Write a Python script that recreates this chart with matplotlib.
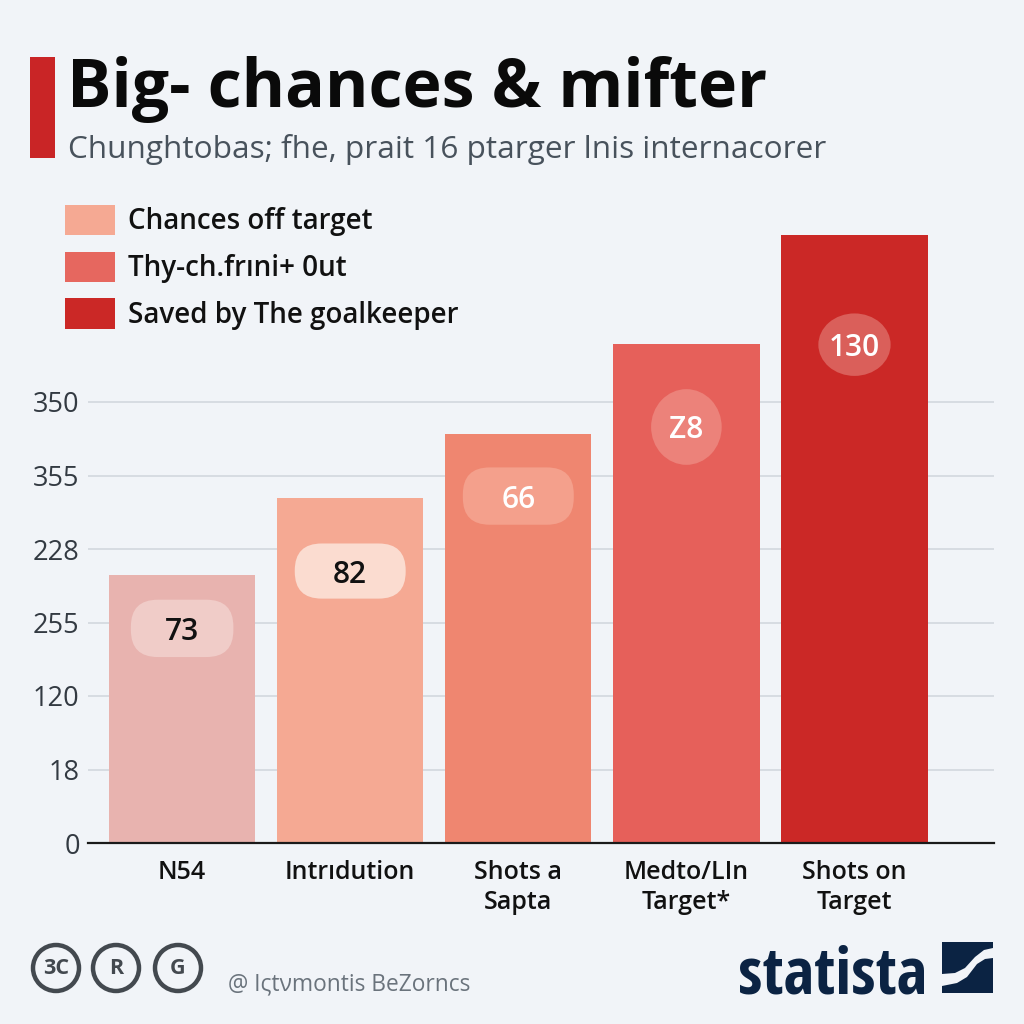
import matplotlib
matplotlib.use("Agg")
import matplotlib.pyplot as plt
from matplotlib.patches import FancyBboxPatch, Ellipse, Patch, Rectangle, Circle, Polygon

# DATA
categories = ["N54", "Intrıdution", "Shots a\nSapta", "Medto/LIn\nTarget*", "Shots on\nTarget"]
tick_labels = ["0", "18", "120", "255", "228", "355", "350"]
# heights are in tick steps, the axis labels are not monotonic
heights = [3.65, 4.69, 5.56, 6.79, 8.27]
bubble_labels = ["73", "82", "66", "Z8", "130"]
bubble_pos = [2.92, 3.70, 4.72, 5.66, 6.78]
bubble_w = [0.61, 0.66, 0.66, 0.42, 0.43]
bubble_h = [0.78, 0.75, 0.78, 1.03, 0.85]
bubble_text = ["#111111", "#111111", "#ffffff", "#ffffff", "#ffffff"]
bubble_fill = ["#F0CCC8", "#FBDCD0", "#F4A08C", "#EC827A", "#DA5F5A"]
bar_colors = ["#E8B3AF", "#F5A993", "#EF8670", "#E6605A", "#CB2826"]
legend_labels = ["Chances off target", "Thy-ch.frıni+ 0ut", "Saved by The goalkeeper"]
legend_colors = ["#F5A993", "#E6675F", "#CB2826"]

BG = "#F1F4F8"
NAVY = "#0B2343"
FONT = "Open Sans"

fig = plt.figure(figsize=(10.24, 10.24), dpi=100, facecolor=BG)
plt.rcParams["font.family"] = FONT

# overlay in pixel coordinates for the header and footer furniture
deco = fig.add_axes([0, 0, 1, 1], zorder=0)
deco.set_xlim(0, 1024)
deco.set_ylim(1024, 0)
deco.axis("off")

# CHART
ax = fig.add_axes([88/1024, (1024-843)/1024, (994-88)/1024, (843-225)/1024], zorder=1)
ax.patch.set_alpha(0)
ax.set_xlim(-0.56, 4.83)
ax.set_ylim(0, 618/73.5)
x = range(len(categories))
ax.bar(x, heights, width=0.87, color=bar_colors, zorder=2)
ax.set_yticks(range(len(tick_labels)))
ax.set_yticklabels(tick_labels, fontsize=19.5, color="#333a42", family=FONT)
ax.set_xticks(list(x))
ax.set_xticklabels(categories, fontsize=18, color="#111111", family=FONT, weight=600, linespacing=1.3)
ax.tick_params(axis="y", length=0, pad=6)
ax.tick_params(axis="x", length=0, pad=12)
ax.grid(True, axis="y", color="#D5DAE0", lw=1.3, zorder=1)
for s in ["top", "right", "left"]:
    ax.spines[s].set_visible(False)
ax.spines["bottom"].set_color("#1a1a1a")
ax.spines["bottom"].set_linewidth(1.6)
ax.spines["bottom"].set_zorder(4)

aspect = (906/5.39)/73.5
for i in x:
    w, h = bubble_w[i], bubble_h[i]
    if i < 3:
        ax.add_patch(FancyBboxPatch((i-w/2, bubble_pos[i]-h/2), w, h,
                                    boxstyle="round,pad=0,rounding_size=0.16",
                                    mutation_aspect=aspect, fc=bubble_fill[i], ec="none", zorder=3))
    else:
        ax.add_patch(Ellipse((i, bubble_pos[i]), w, h, fc=bubble_fill[i], ec="none", zorder=3))
    ax.text(i, bubble_pos[i], bubble_labels[i], ha="center", va="center_baseline", fontsize=21.5,
            weight=600, color=bubble_text[i], zorder=4)

# HEADER
deco.add_patch(Rectangle((30, 57), 25, 101, fc="#C92526", ec="none"))
fig.text(67/1024, 1-107/1024, "Big- chances & mifter", fontsize=47.6, weight="bold", color="#0a0a0a")
fig.text(68/1024, 1-158/1024, "Chunghtobas; fhe, prait 16 ptarger lnis internacorer",
         fontsize=22.65, color="#48525c")

# LEGEND
handles = [Patch(fc=c, ec="none") for c in legend_colors]
fig.legend(handles, legend_labels, loc="upper left", bbox_to_anchor=(65/1024, 1-205/1024),
           frameon=False, prop={"size": 20, "weight": 600}, borderpad=0, borderaxespad=0,
           handlelength=1.8, handleheight=1.3, handletextpad=0.45, labelspacing=0.55,
           labelcolor="#111111")

# FOOTER
for cx, letter in zip([56, 116, 178], ["3C", "R", "G"]):
    deco.add_patch(Circle((cx, 968), 23, fc="none", ec="#43494f", lw=3.2))
    deco.text(cx, 968, letter, ha="center", va="center", fontsize=15.5, weight="bold", color="#43494f")
deco.text(228, 984, "@ I\u03c2t\u03bdmontis BeZorncs", ha="left", va="center", fontsize=16.4, color="#6a737c")
deco.text(738, 993, "statista", ha="left", va="baseline", fontsize=47, weight="bold", color=NAVY,
          family=["Open Sans Condensed", "Roboto Condensed"])
deco.add_patch(Rectangle((942, 942), 51, 51, fc=NAVY, ec="none"))
deco.add_patch(Polygon([(942, 974), (955, 973), (965, 968), (975, 957), (984, 950), (993, 948),
                        (993, 958), (985, 959), (977, 964), (967, 977), (957, 983), (942, 986)],
                       fc=BG, ec="none"))

fig.savefig("out.png", dpi=100, facecolor=BG)
